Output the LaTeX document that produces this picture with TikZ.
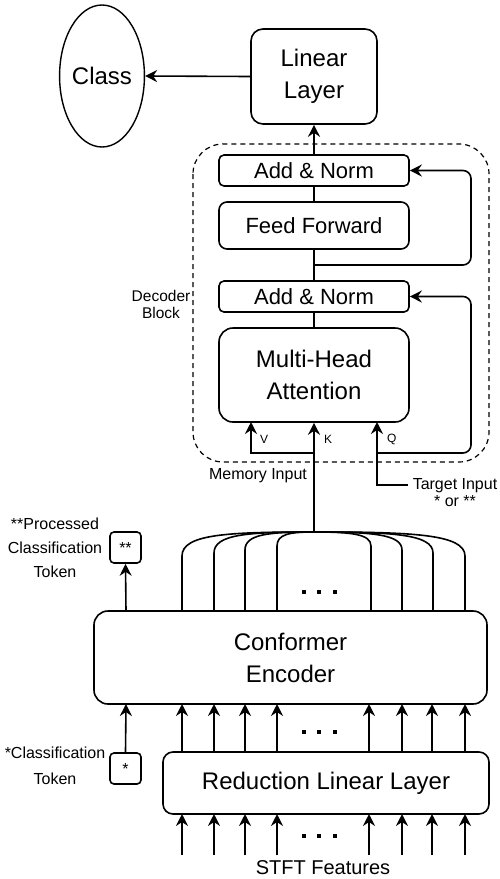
\documentclass[tikz,border=0pt]{standalone}
\usepackage{fontspec}
\setmainfont{Liberation Sans}
\usetikzlibrary{arrows.meta,shapes.geometric}
\begin{document}
\begin{tikzpicture}[x=1pt,y=-1pt,line width=1.6pt,
  box/.style={draw,rounded corners=#1,inner sep=0pt,align=center},
  box/.default=5pt,
  arr/.style={-{Stealth[length=12pt,width=12pt,inset=4pt]}},
  big/.style={font=\fontsize{24}{32}\selectfont},
  mid/.style={font=\fontsize{22}{26}\selectfont},
  small/.style={font=\fontsize{16}{24}\selectfont},
  tiny/.style={font=\fontsize{12}{14}\selectfont}]
\useasboundingbox (0,0) rectangle (499,879);

% top
\node[draw,ellipse,minimum width=78pt,minimum height=142pt,inner sep=0pt,big,line width=1.4pt] (class) at (102,76) {Class};
\node[box=12pt,minimum width=126pt,minimum height=95pt,big] (lin) at (314,76.5) {Linear\\Layer};
\draw[arr] (lin.west) -- (class.east);

% decoder block
\draw[line width=1.2pt,dash pattern=on 5pt off 4pt,rounded corners=30pt] (193,144) rectangle (489,462);
\node[font=\fontsize{15.5}{17}\selectfont,align=center] (declab) at (161,304) {Decoder\\Block};

\node[box,minimum width=190pt,minimum height=31pt,mid] (an1) at (314,170.5) {Add \& Norm};
\node[box=8pt,minimum width=190pt,minimum height=47pt,mid] (ff) at (314,225.5) {Feed Forward};
\node[box,minimum width=190pt,minimum height=31pt,mid] (an2) at (314,296.5) {Add \& Norm};
\node[box=14pt,minimum width=190pt,minimum height=94pt,big] (mha) at (314,375) {Multi-Head\\Attention};

\draw[arr] (an1.north) -- (lin.south);
\draw (ff.north) -- (an1.south);
\draw (an2.north) -- (ff.south);
\draw (mha.north) -- (an2.south);

\coordinate (res1) at (314,265);
\draw[arr,rounded corners=8pt] (res1) -- (471,265) -- (471,170.5) -- (an1.east);

% inputs to attention
\coordinate (merge) at (314,532);
\coordinate (vk) at (314,453);
\coordinate (qb) at (377,453);
\coordinate (tgt) at (408,485);
\draw[arr] (merge) -- (mha.south);
\draw[arr] (vk) -- (251,453) -- (251,422);
\draw[arr] (tgt) -- (377,485) -- (377,422);
\draw[arr,rounded corners=8pt] (qb) -- (471,453) -- (471,296.5) -- (an2.east);

\node[tiny,anchor=west] (vl) at (256,439) {V};
\node[tiny,anchor=west] (kl) at (320,439) {K};
\node[tiny,anchor=west] (ql) at (383,439) {Q};

\node[small,anchor=east] (meml) at (311,476) {Memory Input};
\node[font=\fontsize{16}{17}\selectfont,align=center,inner sep=0pt] (tgtl) at (455,493) {Target Input\\* or **};

% encoder
\node[box=14pt,minimum width=393pt,minimum height=93pt,big] (conf) at (290.5,657.5) {Conformer\\Encoder};
\node[box=10pt,minimum width=326pt,minimum height=62pt,big] (red) at (326,783) {Reduction Linear Layer};

\node[box=4pt,minimum width=31pt,minimum height=31pt,small] (tok2) at (125.5,547.5) {**};
\node[box=4pt,minimum width=31pt,minimum height=31pt,small] (tok1) at (125.5,768.5) {*};
\node[small,align=center] (tok2l) at (55,548) {**Processed\\Classification\\Token};
\node[font=\fontsize{16}{26}\selectfont,align=center] (tok1l) at (55,766) {*Classification\\Token};

\draw[arr] (126,611) -- (tok2.south);
\draw[arr] (tok1.north) -- (126,704);

% fan-in from encoder outputs
\foreach \x/\yv/\cx in {182/556/228, 214/553/249, 245/550/269, 277/546/290}{
  \draw (\x,611) -- (\x,\yv) .. controls (\x,534) and (\cx,532) .. (merge);
}
\foreach \x/\yv/\cx in {371/546/351, 402/550/371, 433/553/392, 465/556/412}{
  \draw (\x,611) -- (\x,\yv) .. controls (\x,534) and (\cx,532) .. (merge);
}

% arrows between reduction and conformer
\foreach \x in {182,214,245,277,369,402,432,465}{
  \draw[arr] (\x,752) -- (\x,704);
  \draw[arr] (\x,855) -- (\x,814);
}

% dots
\foreach \y in {592,732,836}{
  \foreach \x in {304,319,335}{
    \fill (\x-2,\y-2) rectangle (\x+2,\y+2);
  }
}

\node[font=\fontsize{20}{22}\selectfont] (stft) at (323,868) {STFT Features};
\end{tikzpicture}
\end{document}
